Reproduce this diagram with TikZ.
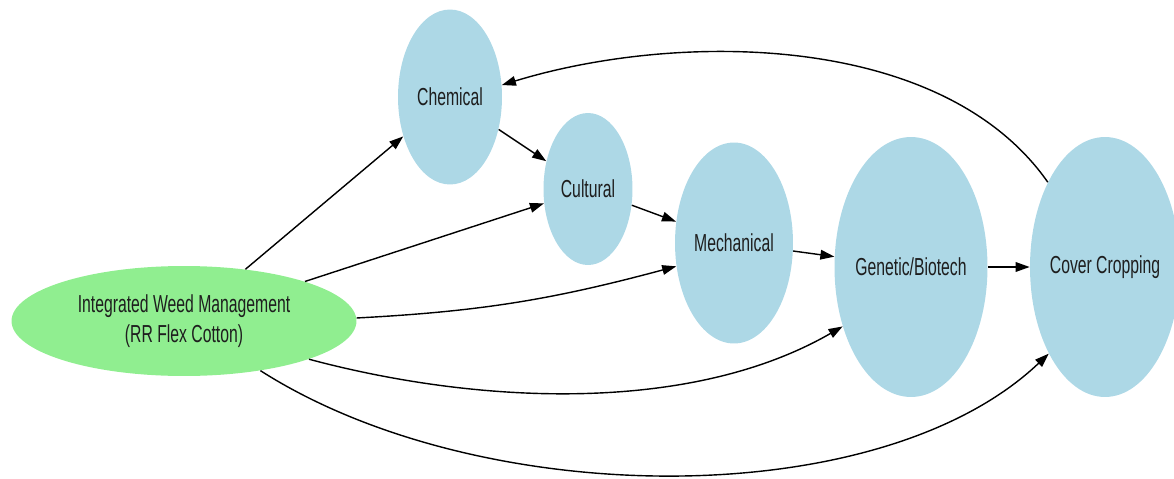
\documentclass[tikz,border=0pt]{standalone}
\usepackage{fontspec}
\setmainfont{Liberation Sans}[FakeStretch=0.64]
\usetikzlibrary{arrows.meta,shapes.geometric}
\definecolor{MethodBlue}{HTML}{ADD8E6}
\definecolor{RootGreen}{HTML}{90EE90}
\definecolor{LabelInk}{HTML}{1E1E1E}
\tikzset{%
  method/.style={ellipse,fill=MethodBlue,inner sep=-6pt,align=center,
    text=LabelInk,font=\fontsize{14}{17}\selectfont},
  root/.style={method,fill=RootGreen},
  flow/.style={-{Triangle[length=8pt,width=5.5pt]},line width=0.8pt,black}
}

\begin{document}
\begin{tikzpicture}[x=0.02cm,y=0.02cm]
  \useasboundingbox (0,0) rectangle (1174,478);
  \node[root, minimum width=69mm, minimum height=22mm] (iwm) at (184,157)
    {Integrated Weed Management\\(RR Flex Cotton)};
  \node[method, minimum width=20.8mm, minimum height=35mm] (chem) at (450,381) {Chemical};
  \node[method, minimum width=17.8mm, minimum height=30.4mm] (cult) at (588,289) {Cultural};
  \node[method, minimum width=23.6mm, minimum height=40.2mm] (mech) at (734,235) {Mechanical};
  \node[method, minimum width=30.6mm, minimum height=52mm] (gen) at (911,211) {Genetic/Biotech};
  \node[method, minimum width=30mm, minimum height=52mm] (cover) at (1105,211) {Cover Cropping};

  % straight links
  \draw[flow] (iwm) -- (chem);
  \draw[flow] (iwm) -- (cult);
  \draw[flow] (chem) -- (cult);
  \draw[flow] (cult) -- (mech);
  \draw[flow] (mech) -- (gen);
  \draw[flow] (gen) -- (cover);
  % curved links
  \draw[flow] (iwm.1) to[out=3,in=195] (mech.202);
  \draw[flow] (iwm.-17) to[out=-15,in=210,looseness=0.84] (gen.221);
  \draw[flow] (iwm.-33) .. controls (480,-33) and (880,-36) .. (cover.237);
  \draw[flow] (cover.124) to[out=125,in=17,looseness=0.85] (chem.13);
\end{tikzpicture}
\end{document}
